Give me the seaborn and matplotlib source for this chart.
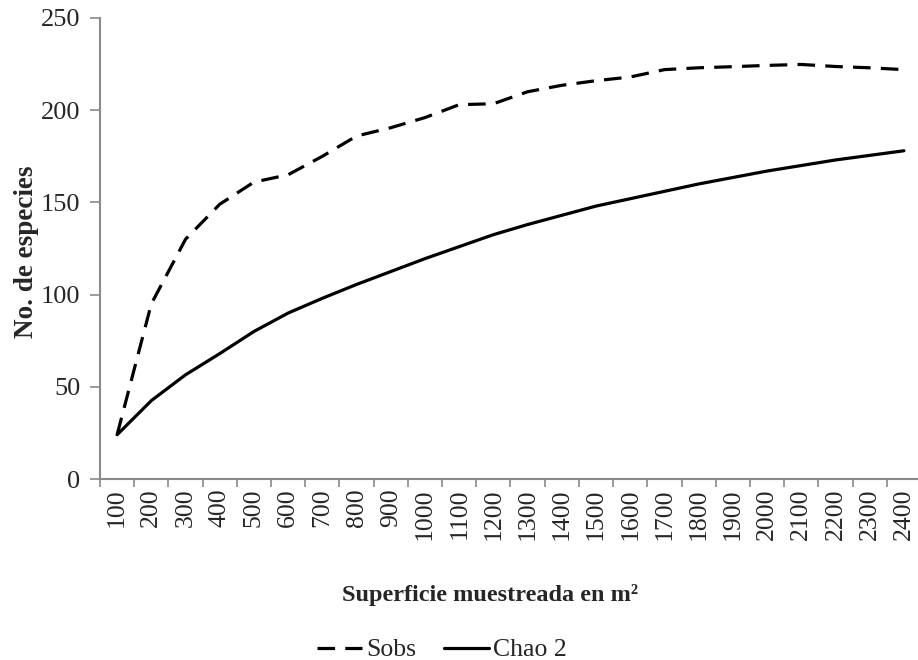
import numpy as np
import pandas as pd
import seaborn as sns
import matplotlib.pyplot as plt
from matplotlib.ticker import FixedLocator

categorias = ["100", "200", "300", "400", "500", "600", "700", "800", "900", "1000",
              "1100", "1200", "1300", "1400", "1500", "1600", "1700", "1800", "1900",
              "2000", "2100", "2200", "2300", "2400"]
sobs = [24, 95, 130, 149, 161, 165, 175, 186, 190.5, 196, 203, 203.5, 210, 213.5,
        216, 218, 222, 223, 223.6, 224.3, 224.8, 223.7, 223, 222]
chao2 = [24, 42.5, 56.5, 68, 80, 90, 98, 105.5, 112.5, 119.5, 126, 132.5, 138, 143,
         148, 152, 156, 160, 163.5, 167, 170, 173, 175.5, 178]
series = ["Sobs", "Chao 2"]
yticks = [0, 50, 100, 150, 200, 250]

df = pd.DataFrame({
    "Superficie": categorias * 2,
    "Especies": sobs + chao2,
    "Serie": [series[0]] * len(categorias) + [series[1]] * len(categorias),
})

sns.set_style("white")
plt.rcParams['font.family'] = ['Liberation Serif', 'DejaVu Serif']

fig = plt.figure(figsize=(9.18, 6.6), dpi=100)
ax = fig.add_axes([100 / 918, (660 - 479) / 660, 821 / 918, (479 - 18) / 660])

sns.lineplot(data=df, x="Superficie", y="Especies", style="Serie",
             dashes={"Sobs": (5.5, 3.2), "Chao 2": ""}, color="black",
             linewidth=2.3, ax=ax, legend=True, sort=False)

ax.set_xlim(-0.5, len(categorias) - 0.5)
ax.set_ylim(0, 250)
ax.set_yticks(yticks)
ax.set_yticklabels([str(v) for v in yticks], fontsize=19)
ax.set_xticks(range(len(categorias)))
ax.set_xticklabels(categorias, rotation=90, fontsize=18.5)
ax.xaxis.set_minor_locator(FixedLocator(np.arange(-0.5, len(categorias), 1.0)))
ax.tick_params(axis="x", which="major", length=0, pad=7)
ax.tick_params(axis="x", which="minor", length=5.5, width=1.2, color="#8a8a8a", direction="out", bottom=True)
ax.tick_params(axis="y", which="major", length=7, width=1.2, color="#8a8a8a", direction="out", left=True, pad=7)

for side in ["top", "right"]:
    ax.spines[side].set_visible(False)
for side in ["left", "bottom"]:
    ax.spines[side].set_color("#8a8a8a")
    ax.spines[side].set_linewidth(1.5)

ax.set_xlabel("Superficie muestreada en m²", fontsize=17.5, fontweight="bold")
ax.set_ylabel("No. de especies", fontsize=19.5, fontweight="bold")
ax.xaxis.set_label_coords((490 - 100) / 821, -(584 - 479) / 461)
ax.yaxis.set_label_coords((39 - 100) / 821, (479 - 252) / 461)

handles, labels = ax.get_legend_handles_labels()
ax.get_legend().remove()
fig.legend(handles, labels, loc="center", bbox_to_anchor=(442 / 918, 1 - 650 / 660),
           ncol=2, frameon=False, fontsize=18.5, handlelength=1.75, handletextpad=0.15,
           columnspacing=1.1)

fig.savefig("out.png", dpi=100)
